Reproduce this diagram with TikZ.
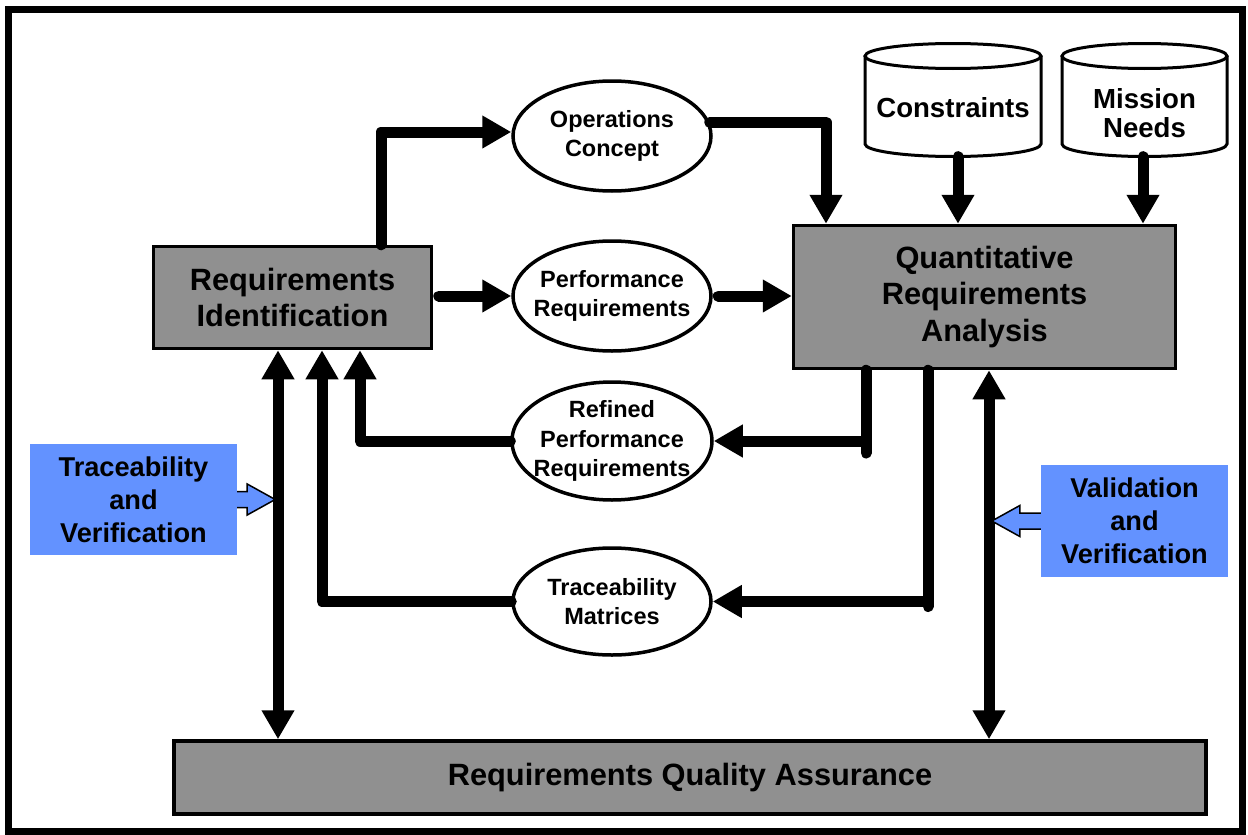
\documentclass[tikz,border=0pt]{standalone}
\usepackage{fontspec}
\setmainfont{Liberation Sans}
\usetikzlibrary{arrows.meta,shapes.geometric,calc}
\definecolor{boxgray}{RGB}{144,144,144}
\definecolor{vblue}{RGB}{99,146,255}
\begin{document}
\begin{tikzpicture}[x=1pt,y=-1pt,
  gbox/.style={draw=black,fill=boxgray,line width=3.5pt,rectangle,inner sep=0pt,align=center,
    font=\fontsize{30.8}{36.5}\selectfont\bfseries},
  oval/.style={draw=black,fill=white,line width=3.5pt,ellipse,inner sep=0pt,
    minimum width=198pt},
  ovaltext/.style={align=center,inner sep=0pt,font=\fontsize{23.5}{29.5}\selectfont\bfseries},
  bluebox/.style={fill=vblue,rectangle,inner sep=0pt,align=center,
    font=\fontsize{27.2}{33}\selectfont\bfseries},
  cyltext/.style={align=center,inner sep=0pt,font=\fontsize{27.6}{29}\selectfont\bfseries},
  cylline/.style={draw=black,fill=white,line width=3pt},
  conn/.style={line width=11pt,line cap=round,line join=round,
    -{Triangle[length=29pt,width=31pt]}},
  plain/.style={line width=11pt,line cap=round,line join=round},
  dconn/.style={line width=11pt,{Triangle[length=29pt,width=31pt]}-{Triangle[length=29pt,width=31pt]}},
  hollow/.style={draw=black,fill=vblue,line width=1.5pt,line join=miter}]
\useasboundingbox (0,0) rectangle (1248,835);
\draw[line width=7pt] (8.5,9) rectangle (1242,831);

% cylinders
\path[cylline] (865,56) -- (865,144) arc[start angle=180,end angle=0,x radius=88,y radius=12.5] -- (1041,56);
\draw[cylline] (953,56) ellipse[x radius=88,y radius=12.5];
\node[minimum width=176pt,minimum height=113pt,inner sep=0pt] (con) at (953,100) {};
\node[cyltext] (contxt) at (953,108) {Constraints};
\path[cylline] (1062,56) -- (1062,144) arc[start angle=180,end angle=0,x radius=82.5,y radius=12.5] -- (1227,56);
\draw[cylline] (1144.5,56) ellipse[x radius=82.5,y radius=12.5];
\node[minimum width=165pt,minimum height=113pt,inner sep=0pt] (mis) at (1144.5,100) {};
\node[cyltext] (mistxt) at (1144.5,113) {Mission\\Needs};

% boxes
\node[gbox,minimum width=278pt,minimum height=102pt] (ri) at (292.5,297.5) {Requirements\\Identification};
\node[gbox,minimum width=382pt,minimum height=143pt] (qra) at (984.5,297) {Quantitative\\Requirements\\Analysis};
\node[gbox,minimum width=1032pt,minimum height=73pt] (rqa) at (690,777.5) {Requirements Quality Assurance};

% ellipses
\node[oval,minimum height=110pt,label={[ovaltext]center:{Operations\\Concept}}] (ops) at (612,136) {};
\node[oval,minimum height=110pt,label={[ovaltext]center:{Performance\\Requirements}}] (perf) at (612,296) {};
\node[oval,minimum width=200pt,minimum height=118pt,label={[ovaltext]center:{Refined\\Performance\\Requirements}}] (ref) at (612,441) {};
\node[oval,minimum height=107pt,label={[ovaltext]center:{Traceability\\Matrices}}] (tm) at (612,601.5) {};

% blue boxes
\node[bluebox,minimum width=207pt,minimum height=111pt] (tv) at (133.5,499.5) {Traceability\\and\\Verification};
\node[bluebox,minimum width=187pt,minimum height=112pt] (vv) at (1134.5,521) {Validation\\and\\Verification};

% lanes
\coordinate (L1) at (381,0);
\coordinate (L2) at (360,0);
\coordinate (L3) at (322,0);
\coordinate (L4) at (278,0);
\coordinate (R1) at (826,0);
\coordinate (R2) at (866,0);
\coordinate (R3) at (928,0);
\coordinate (R4) at (989,0);

% connectors
\draw[conn] (ri.north -| L1) |- ([yshift=4pt]ops.west);
\draw[conn] (ops.8) -| (R1 |- qra.north);
\draw[conn] ([xshift=5pt]con.south) -- ([xshift=5pt]con.south |- qra.north);
\draw[conn] ([xshift=-1.5pt]mis.south) -- ([xshift=-1.5pt]mis.south |- qra.north);
\draw[conn] ([xshift=5.5pt]ri.east |- perf.west) -- (perf.west);
\draw[conn] ([xshift=5.5pt]perf.east) -- (perf.east -| qra.west);
\draw[plain] (qra.south -| R2) -- ([yshift=-12pt]R2 |- ref.east);
\draw[conn] (R2 |- ref.east) -- (ref.east);
\draw[plain] (qra.south -| R3) -- ([yshift=-5pt]R3 |- tm.east);
\draw[conn] (R3 |- tm.east) -- (tm.east);
\draw[conn] (ref.west) -| (L2 |- ri.south);
\draw[conn] (tm.west) -| (L3 |- ri.south);
\draw[dconn] (L4 |- ri.south) -- (L4 |- rqa.north);
\draw[dconn] (R4 |- qra.south) -- (R4 |- rqa.north);

% hollow arrows
\begin{scope}[shift={(tv.east)}]
\filldraw[hollow] (0,-8) -- (10,-8) -- (10,-15.5) -- (38,0) -- (10,15.5) -- (10,8) -- (0,8);
\end{scope}
\begin{scope}[shift={(vv.west)}]
\filldraw[hollow] (0,-8) -- (-21,-8) -- (-21,-15.5) -- (-49,0) -- (-21,15.5) -- (-21,8) -- (0,8);
\end{scope}
\end{tikzpicture}
\end{document}
